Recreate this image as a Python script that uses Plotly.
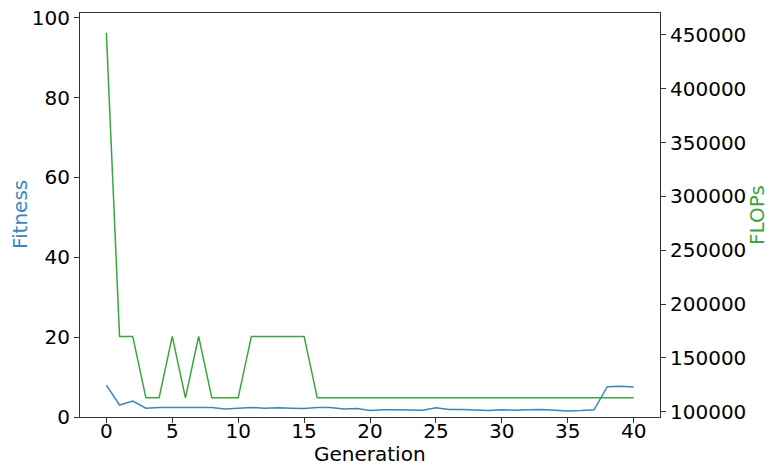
import plotly.graph_objects as go

generations = list(range(41))
fitness = [8.0, 3.0, 4.0, 2.2, 2.4, 2.4, 2.4, 2.3, 2.4, 2.0,
           2.2, 2.4, 2.2, 2.3, 2.2, 2.1, 2.4, 2.4, 2.0, 2.1,
           1.6, 1.8, 1.8, 1.7, 1.7, 2.3, 1.9, 1.9, 1.7, 1.6,
           1.8, 1.7, 1.8, 1.9, 1.7, 1.5, 1.6, 1.8, 7.6, 7.7, 7.5]
flops = [452000, 170000, 170000, 113000, 113000, 170000, 113000, 170000, 113000, 113000,
         113000, 170000, 170000, 170000, 170000, 170000] + [113000] * 25
x_ticks = [0, 5, 10, 15, 20, 25, 30, 35, 40]
fit_ticks = [0, 20, 40, 60, 80, 100]
flop_ticks = [100000, 150000, 200000, 250000, 300000, 350000, 400000, 450000]

blue = "#3a87bf"
green = "#3aa63a"
font = "DejaVu Sans"
fs = 20

ML, MR, MT, MB = 80, 109, 13, 50
W, H = 769, 467
PW, PH = W - ML - MR, H - MT - MB

fig = go.Figure()
fig.add_trace(go.Scatter(x=generations, y=fitness, mode="lines",
                         line=dict(color=blue, width=1.5), yaxis="y", showlegend=False))
fig.add_trace(go.Scatter(x=generations, y=flops, mode="lines",
                         line=dict(color=green, width=1.5), yaxis="y2", showlegend=False))

axis_common = dict(showgrid=False, zeroline=False, showline=True, linecolor="#333",
                   linewidth=1, ticks="outside", ticklen=5, tickcolor="#333",
                   automargin=False,
                   tickfont=dict(family=font, size=fs, color="black"))

fig.update_layout(
    width=W, height=H,
    margin=dict(l=ML, r=MR, t=MT, b=MB),
    plot_bgcolor="white", paper_bgcolor="white",
    font=dict(family=font, size=fs, color="black"),
    xaxis=dict(range=[-2, 42], tickvals=x_ticks, mirror=True,
               ticklabelstandoff=-9, **axis_common),
    yaxis=dict(range=[0, 101.2], tickvals=fit_ticks, **axis_common),
    yaxis2=dict(range=[95200, 470300], tickvals=flop_ticks, tickformat="d",
                overlaying="y", side="right", **axis_common),
    annotations=[
        dict(text="Generation", xref="paper", yref="paper",
             x=(370 - ML) / PW, y=(H - MB - 454) / PH,
             xanchor="center", yanchor="middle", showarrow=False, borderpad=0,
             font=dict(family=font, size=fs, color="black")),
        dict(text="Fitness", xref="paper", yref="paper",
             x=(20 - ML) / PW, y=0.5, textangle=-90, borderpad=0,
             xanchor="center", yanchor="middle", showarrow=False,
             font=dict(family=font, size=fs, color=blue)),
        dict(text="FLOPs", xref="paper", yref="paper",
             x=(757 - ML) / PW, y=0.5, textangle=-90, borderpad=0,
             xanchor="center", yanchor="middle", showarrow=False,
             font=dict(family=font, size=fs, color=green)),
    ],
)

fig.write_html("out.html")
